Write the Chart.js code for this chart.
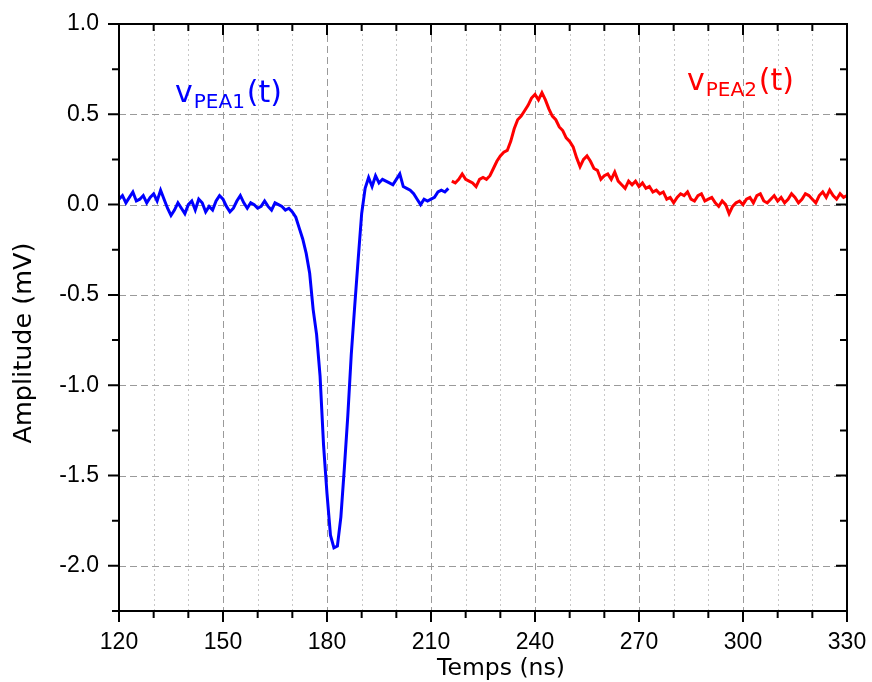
<!DOCTYPE html>
<html lang="fr">
<head>
<meta charset="UTF-8">
<title>Signal PEA</title>
<script src="https://cdn.jsdelivr.net/npm/chart.js@4.4.1/dist/chart.umd.min.js"></script>
<style>
  html, body { margin: 0; padding: 0; background: #fff; }
  #wrap { width: 872px; height: 682px; }
</style>
</head>
<body>
<div id="wrap"><canvas id="chart"></canvas></div>
<script>
// time axis (ns), 1 ns sampling
const blueStart = 120;
const redStart = 216;

// v_PEA1(t), mV, from 120 ns
const blueValues = [
  0.03, 0.05, 0.01, 0.04, 0.07, 0.02, 0.03, 0.05, 0.01, 0.04,
  0.06, 0.02, 0.08, 0.03, -0.02, -0.06, -0.03, 0.01, -0.02, -0.05,
  0.00, 0.02, -0.03, 0.03, 0.01, -0.04, -0.01, -0.03, 0.02, 0.05,
  0.03, -0.01, -0.04, -0.02, 0.02, 0.05, 0.01, -0.02, 0.01, 0.00,
  -0.02, -0.01, 0.02, -0.01, -0.03, 0.01, 0.00, -0.01, -0.03, -0.02,
  -0.04, -0.07, -0.13, -0.19, -0.27, -0.38, -0.58, -0.72, -0.95, -1.33,
  -1.60, -1.83, -1.90, -1.89, -1.73, -1.46, -1.17, -0.83, -0.56, -0.30,
  -0.05, 0.09, 0.15, 0.10, 0.16, 0.12, 0.14, 0.13, 0.12, 0.11,
  0.14, 0.17, 0.10, 0.09, 0.08, 0.06, 0.03, 0.00, 0.03, 0.02,
  0.03, 0.04, 0.07, 0.08, 0.07, 0.09
];

// v_PEA2(t), mV, from 216 ns
const redValues = [
  0.13, 0.12, 0.14, 0.17, 0.14, 0.13, 0.12, 0.10, 0.14, 0.15,
  0.14, 0.16, 0.20, 0.24, 0.27, 0.29, 0.30, 0.35, 0.42, 0.47,
  0.49, 0.52, 0.55, 0.59, 0.61, 0.58, 0.62, 0.58, 0.53, 0.49,
  0.47, 0.43, 0.41, 0.37, 0.35, 0.32, 0.26, 0.21, 0.25, 0.27,
  0.24, 0.20, 0.19, 0.14, 0.16, 0.17, 0.14, 0.18, 0.13, 0.11,
  0.09, 0.13, 0.11, 0.13,
  0.10, 0.12, 0.09, 0.10, 0.07, 0.08, 0.06, 0.07, 0.03, 0.04,
  0.01, 0.04, 0.06, 0.05, 0.07, 0.03, 0.02, 0.05, 0.06, 0.02,
  0.03, 0.04, 0.01, -0.01, 0.02, 0.00, -0.05, -0.01, 0.01, 0.02,
  0.00, 0.03, 0.04, 0.01, 0.05, 0.06, 0.02, 0.01, 0.03, 0.05,
  0.02, 0.04, 0.01, 0.03, 0.06, 0.04, 0.01, 0.03, 0.06, 0.05,
  0.03, 0.01, 0.05, 0.07, 0.04, 0.08, 0.05, 0.03, 0.06, 0.04, 0.05
];

const xTicks = [120, 150, 180, 210, 240, 270, 300, 330];
const yTicks = [-2.0, -1.5, -1.0, -0.5, 0.0, 0.5, 1.0];
const xMinorStep = 10;
const yMinorStep = 0.25;

const toPoints = (start, vals) => vals.map((v, i) => ({ x: start + i, y: v }));

// grid, frame, ticks, titles and curve labels
const decor = {
  id: 'decor',
  beforeDatasetsDraw(chart) {
    const { ctx, chartArea: a, scales: { x, y } } = chart;
    ctx.save();
    ctx.lineWidth = 1;
    for (let t = x.min + xMinorStep; t < x.max; t += xMinorStep) {
      const px = Math.round(x.getPixelForValue(t)) + 0.5;
      const major = xTicks.includes(t);
      ctx.strokeStyle = major ? '#9a9a9a' : '#c8c8c8';
      ctx.setLineDash(major ? [7, 4] : [2, 3]);
      ctx.beginPath(); ctx.moveTo(px, a.top); ctx.lineTo(px, a.bottom); ctx.stroke();
    }
    yTicks.forEach(v => {
      if (v >= y.max) return;
      const py = Math.round(y.getPixelForValue(v)) + 0.5;
      ctx.strokeStyle = '#9a9a9a';
      ctx.setLineDash([7, 4]);
      ctx.beginPath(); ctx.moveTo(a.left, py); ctx.lineTo(a.right, py); ctx.stroke();
    });
    ctx.restore();
  },
  afterDatasetsDraw(chart) {
    const { ctx, chartArea: a, scales: { x, y } } = chart;
    ctx.save();
    ctx.strokeStyle = '#000';
    ctx.lineWidth = 2;
    ctx.setLineDash([]);
    ctx.strokeRect(a.left, a.top, a.right - a.left, a.bottom - a.top);

    ctx.beginPath();
    for (let t = x.min; t <= x.max; t += xMinorStep) {
      const px = x.getPixelForValue(t);
      const len = xTicks.includes(t) ? 11 : 7;
      ctx.moveTo(px, a.bottom); ctx.lineTo(px, a.bottom + len);
      ctx.moveTo(px, a.top); ctx.lineTo(px, a.top + len);
    }
    for (let v = y.min; v <= y.max + 1e-9; v += yMinorStep) {
      const py = y.getPixelForValue(v);
      const len = yTicks.some(k => Math.abs(k - v) < 1e-6) ? 11 : 7;
      ctx.moveTo(a.left, py); ctx.lineTo(a.left - len, py);
      ctx.moveTo(a.right, py); ctx.lineTo(a.right - len, py);
    }
    ctx.stroke();

    // axis titles
    ctx.fillStyle = '#000';
    ctx.font = '23.5px "DejaVu Sans"';
    ctx.textAlign = 'center';
    ctx.textBaseline = 'alphabetic';
    ctx.fillText('Temps (ns)', 501, 675);
    ctx.save();
    ctx.translate(31, 343);
    ctx.rotate(-Math.PI / 2);
    ctx.font = '25.5px "DejaVu Sans"';
    ctx.fillText('Amplitude (mV)', 0, 0);
    ctx.restore();

    // curve labels
    const label = (x0, base, sub, color) => {
      ctx.fillStyle = color;
      ctx.textAlign = 'left';
      ctx.font = '30px "DejaVu Sans"';
      ctx.fillText('v', x0, base);
      let cx = x0 + ctx.measureText('v').width + 1;
      ctx.font = '20px "DejaVu Sans"';
      ctx.fillText(sub, cx, base + 6);
      cx += ctx.measureText(sub).width + 2;
      ctx.font = '30px "DejaVu Sans"';
      ctx.fillText('(t)', cx, base);
    };
    label(175, 102, 'PEA1', '#0000ff');
    label(687, 90, 'PEA2', '#ff0000');
    ctx.restore();
  }
};

new Chart(document.getElementById('chart'), {
  type: 'line',
  data: {
    datasets: [
      {
        label: 'vPEA1(t)',
        data: toPoints(blueStart, blueValues),
        borderColor: '#0000ff',
        borderWidth: 3,
        pointRadius: 0,
        tension: 0
      },
      {
        label: 'vPEA2(t)',
        data: toPoints(redStart, redValues),
        borderColor: '#ff0000',
        borderWidth: 3,
        pointRadius: 0,
        tension: 0
      }
    ]
  },
  options: {
    responsive: true,
    maintainAspectRatio: false,
    animation: false,
    layout: { padding: { top: 24, right: 25, left: 0, bottom: 0 } },
    plugins: { legend: { display: false }, tooltip: { enabled: false } },
    scales: {
      x: {
        type: 'linear',
        min: 120,
        max: 330,
        grid: { display: false, drawTicks: false },
        border: { display: false },
        afterBuildTicks: s => { s.ticks = xTicks.map(v => ({ value: v })); },
        afterFit: s => { s.height = 71; s.paddingLeft = 0; s.paddingRight = 0; },
        ticks: {
          padding: 18,
          color: '#000',
          font: { family: '"Liberation Sans"', size: 23 },
          maxRotation: 0,
          autoSkip: false
        }
      },
      y: {
        min: -2.25,
        max: 1.0,
        grid: { display: false, drawTicks: false },
        border: { display: false },
        afterBuildTicks: s => { s.ticks = yTicks.map(v => ({ value: v })); },
        afterFit: s => { s.width = 119; s.paddingTop = 0; s.paddingBottom = 0; },
        ticks: {
          padding: 20,
          color: '#000',
          font: { family: '"Liberation Sans"', size: 23 },
          callback: v => v.toFixed(1)
        }
      }
    }
  },
  plugins: [decor]
});
</script>
</body>
</html>
